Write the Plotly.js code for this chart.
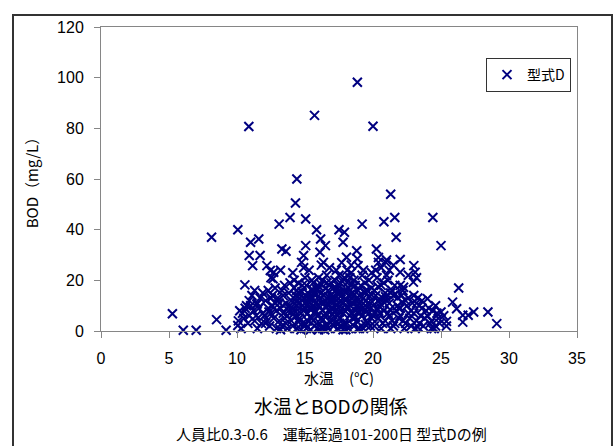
<!DOCTYPE html>
<html>
<head>
<meta charset="utf-8">
<script src="https://cdn.plot.ly/plotly-3.0.1.min.js"></script>
<style>
  html, body { margin: 0; padding: 0; background: #fff; }
  #chart { width: 616px; height: 446px; }
</style>
</head>
<body>
<div id="chart"></div>
<script>
// 水温 (℃) と BOD (mg/L) の測定値 — 型式D, 人員比0.3-0.6, 運転経過101-200日
const waterTemp = [
  // 外れ値・散在点
  5.25, 6.05, 7.0, 8.13, 8.5, 9.2, 10.06, 10.06, 10.87, 10.58,
  11.0, 11.6, 10.9, 11.15, 11.7, 12.2, 12.45, 12.7, 12.65, 13.1,
  13.3, 13.6, 13.9, 14.4, 14.3, 15.05, 15.05, 14.9, 14.75, 15.7,
  15.85, 16.15, 16.5, 16.1, 16.35, 17.5, 17.9, 17.8, 18.85, 18.8,
  18.05, 18.85, 19.2, 18.9, 20.0, 20.25, 20.8, 21.3, 21.6, 21.7,
  22.0, 20.4, 20.95, 22.0, 22.0, 22.25, 23.0, 23.1, 22.97, 24.4,
  25.0, 26.3, 25.85, 26.15, 26.6, 27.4, 27.0, 28.45, 29.1, 26.6,
  25.4, 25.0, 24.0, 24.3, 23.3,
  // 20-30 mg/L 付近
  12.5, 13.2, 14.1, 14.9, 15.3, 16.2, 16.8, 17.3, 17.7, 18.4,
  18.1, 19.3, 19.9, 20.6, 21.2, 21.5, 20.4, 21.0, 23.2, 22.6,
  // 10-11 ℃
  10.2, 10.4, 10.6, 10.3, 10.8, 10.9, 10.5, 10.7, 10.1, 10.9,
  // 11-12 ℃
  11.1, 11.3, 11.5, 11.2, 11.4, 11.6, 11.8, 11.9, 11.0, 11.7, 11.3, 11.5, 11.9,
  // 12-13 ℃
  12.1, 12.3, 12.5, 12.6, 12.8, 12.2, 12.4, 12.7, 12.9, 12.0, 12.3, 12.6, 12.9, 12.5, 12.1, 12.8,
  // 13-14 ℃
  13.0, 13.2, 13.4, 13.6, 13.8, 13.1, 13.3, 13.5, 13.7, 13.9,
  13.2, 13.6, 13.4, 13.8, 13.0, 13.9, 13.5, 13.3, 13.7, 13.1,
  // 14-15 ℃
  14.0, 14.2, 14.4, 14.6, 14.8, 14.1, 14.3, 14.5, 14.7, 14.9, 14.0, 14.2,
  14.4, 14.6, 14.8, 14.1, 14.3, 14.5, 14.7, 14.9, 14.2, 14.6, 14.8, 14.4,
  // 15-16 ℃
  15.0, 15.2, 15.4, 15.6, 15.8, 15.1, 15.3, 15.5, 15.7, 15.9, 15.0, 15.2, 15.4, 15.6,
  15.8, 15.1, 15.3, 15.5, 15.7, 15.9, 15.0, 15.4, 15.6, 15.8, 15.2, 15.5, 15.9,
  // 16-17 ℃
  16.0, 16.2, 16.4, 16.6, 16.8, 16.1, 16.3, 16.5, 16.7, 16.9, 16.0, 16.2, 16.4, 16.6,
  16.8, 16.1, 16.3, 16.5, 16.7, 16.9, 16.0, 16.4, 16.6, 16.8, 16.2, 16.5, 16.9, 16.3,
  // 17-18 ℃
  17.0, 17.2, 17.4, 17.6, 17.8, 17.1, 17.3, 17.5, 17.7, 17.9, 17.0, 17.2, 17.4, 17.6,
  17.8, 17.1, 17.3, 17.5, 17.7, 17.9, 17.0, 17.4, 17.6, 17.8, 17.2, 17.5, 17.9,
  // 18-19 ℃
  18.0, 18.2, 18.4, 18.6, 18.8, 18.1, 18.3, 18.5, 18.7, 18.9, 18.0, 18.2, 18.4, 18.6,
  18.8, 18.1, 18.3, 18.5, 18.7, 18.9, 18.0, 18.4, 18.6, 18.8, 18.2, 18.5, 18.9,
  // 19-20 ℃
  19.0, 19.2, 19.4, 19.6, 19.8, 19.1, 19.3, 19.5, 19.7, 19.9, 19.0, 19.2,
  19.4, 19.6, 19.8, 19.1, 19.3, 19.5, 19.7, 19.9, 19.0, 19.4, 19.6,
  // 20-21 ℃
  20.0, 20.2, 20.4, 20.6, 20.8, 20.1, 20.3, 20.5, 20.7, 20.9,
  20.0, 20.2, 20.4, 20.6, 20.8, 20.1, 20.5, 20.7, 20.9, 20.3,
  // 21-22 ℃
  21.0, 21.2, 21.4, 21.6, 21.8, 21.1, 21.3, 21.5, 21.7, 21.9,
  21.0, 21.2, 21.4, 21.6, 21.8, 21.1, 21.5, 21.9, 21.3,
  // 22-23 ℃
  22.0, 22.2, 22.4, 22.6, 22.8, 22.1, 22.3, 22.5, 22.7, 22.9, 22.2, 22.6, 22.4, 22.8, 22.0,
  // 23-24 ℃
  23.0, 23.2, 23.4, 23.6, 23.8, 23.1, 23.3, 23.5, 23.7, 23.9, 23.2, 23.6, 23.4, 23.0,
  // 24-25.5 ℃
  24.0, 24.2, 24.4, 24.6, 24.8, 24.1, 24.5, 24.7, 24.3, 24.9, 25.2, 25.4, 24.6,
  // 14-21 ℃ の密集部 (追加測定)
  14.12, 14.38, 14.53, 14.77, 14.96, 15.13, 15.37, 15.52, 15.78, 15.94,
  16.17, 16.33, 16.58, 16.72, 16.97, 17.14, 17.36, 17.53, 17.76, 17.93,
  18.16, 18.34, 18.57, 18.73, 18.96, 19.12, 19.38, 19.54, 19.77, 19.93,
  20.14, 20.37, 20.52, 20.78, 20.93,
  15.05, 15.45, 15.85, 16.25, 16.65, 17.05, 17.45, 17.85, 18.25, 18.65,
  19.05, 19.45, 19.85, 16.05, 16.45, 16.85, 17.25, 17.65, 18.05, 18.45,
  18.85, 15.25, 15.65, 13.75, 14.45, 21.25, 21.65, 22.15, 12.35, 11.45
];

const bodValue = [
  // 外れ値・散在点
  6.8, 0.3, 0.3, 37, 4.5, 0.3, 40, 2.2, 80.7, 18.2,
  35, 36.3, 29.8, 25.8, 29.8, 25.8, 23.9, 23.2, 20.6, 42.2,
  32.4, 31.5, 44.8, 60, 50.5, 44.2, 33.7, 29.8, 27.1, 85.1,
  40, 36.3, 33.7, 31.1, 27.1, 40, 39, 35, 98.2, 31.7,
  29.1, 28.5, 42.2, 25.8, 80.8, 32.4, 43.1, 54, 44.8, 37,
  28.2, 27.1, 27.1, 23.2, 18, 17.3, 25.8, 23.2, 19.3, 44.8,
  33.7, 17, 11.4, 8.8, 6.2, 7.5, 6.2, 7.5, 2.9, 3.5,
  3.8, 7.5, 12.7, 1, 1.6,
  // 20-30 mg/L 付近
  21, 24, 23, 25, 24, 26, 25, 24, 27, 26,
  24, 24, 23, 25, 24, 26, 29, 28, 21, 22,
  // 10-11 ℃
  8, 7, 9, 1, 3, 12, 5, 10, 4, 6,
  // 11-12 ℃
  14, 16, 11, 8, 6, 9, 3, 7, 10, 13, 4, 1, 15,
  // 12-13 ℃
  12, 9, 7, 14, 11, 4, 2, 5, 8, 6, 16, 10, 1, 13, 3, 17,
  // 13-14 ℃
  13, 9, 7, 11, 15, 4, 2, 18, 6, 10,
  0.5, 3, 14, 8, 12, 19, 5, 16, 1, 11,
  // 14-15 ℃
  12, 8, 16, 5, 10, 2, 14, 19, 7, 13, 4, 17,
  1, 11, 3, 9, 6, 15, 0.5, 8, 20, 13, 18, 10,
  // 15-16 ℃
  11, 7, 14, 4, 17, 1, 9, 20, 12, 6, 3, 15, 0.5, 10,
  8, 18, 13, 5, 2, 16, 21, 9, 19, 11, 4, 13, 1,
  // 16-17 ℃
  10, 15, 6, 19, 12, 3, 8, 17, 1, 14, 21, 5, 11, 2,
  18, 13, 20, 7, 16, 9, 0.5, 14, 22, 4, 11, 12, 19, 1,
  // 17-18 ℃
  13, 8, 18, 5, 11, 2, 15, 22, 9, 16, 4, 20, 1, 12,
  7, 17, 10, 3, 14, 21, 9, 6, 19, 0.5, 13, 11, 3,
  // 18-19 ℃
  12, 17, 7, 14, 10, 3, 21, 5, 18, 1, 15, 9, 23, 2,
  13, 19, 6, 11, 8, 16, 0.5, 13, 20, 4, 1, 15, 10,
  // 19-20 ℃
  11, 6, 15, 3, 9, 18, 1, 12, 20, 5, 14, 22,
  8, 16, 2, 10, 13, 4, 7, 17, 1, 19, 11,
  // 20-21 ℃
  10, 14, 5, 18, 8, 2, 21, 11, 3, 15,
  6, 24, 12, 1, 19, 16, 7, 13, 4, 9,
  // 21-22 ℃
  12, 6, 16, 3, 10, 20, 1, 14, 8, 5,
  22, 11, 4, 18, 13, 7, 2, 9, 15,
  // 22-23 ℃
  9, 4, 12, 7, 2, 14, 1, 10, 5, 11, 16, 13, 3, 8, 6,
  // 23-24 ℃
  7, 11, 3, 9, 5, 1, 13, 6, 2, 8, 4, 12, 10, 14,
  // 24-25.5 ℃
  6, 3, 8, 2, 5, 9, 1, 7, 4, 3, 6, 2, 10,
  // 14-21 ℃ の密集部 (追加測定)
  6.5, 11.5, 3.5, 15.5, 9.5, 13.5, 5.5, 16.5, 7.5, 10.5,
  18.5, 4.5, 9.5, 13.5, 6.5, 11.5, 16.5, 7.5, 19.5, 12.5,
  9.5, 14.5, 17.5, 5.5, 12.5, 8.5, 15.5, 9.5, 13.5, 11.5,
  7.5, 17.5, 9.5, 11.5, 13.5,
  2.5, 8.5, 14.5, 1.5, 10.5, 6.5, 14.5, 2.5, 11.5, 5.5,
  7.5, 2.5, 14.5, 17.5, 0.5, 7.5, 3.5, 15.5, 9.5, 18.5,
  7.5, 10.5, 14.5, 9.5, 13.5, 8.5, 14.5, 11.5, 7.5, 10.5
];

const seriesName = '型式D';
const chartTitle = '水温とBODの関係';
const chartSubtitle = '人員比0.3-0.6\u3000運転経過101-200日 型式Dの例';
const xTitle = '水温\u3000(℃)';
const yTitle = 'BOD（mg/L）';

const jpFont = '"Noto Sans CJK JP", "Liberation Sans", sans-serif';
const numFont = '"Liberation Sans", sans-serif';
const navy = '#000080';
const axisGray = '#868686';

const trace = {
  type: 'scatter',
  mode: 'markers',
  name: seriesName,
  x: waterTemp,
  y: bodValue,
  cliponaxis: false,
  marker: {
    symbol: 'x-thin-open',
    size: 9,
    color: navy,
    line: { color: navy, width: 2 }
  }
};

// 描画域: 左101px, 右577px, 上27px, 下331px
const L = 101, R = 577, T = 27, B = 331, W = 616, H = 446;
const px = v => (v - L) / (R - L);
const py = v => (B - v) / (B - T);

const layout = {
  width: W,
  height: H,
  margin: { l: L, r: W - R, t: T, b: H - B, pad: 0 },
  paper_bgcolor: '#ffffff',
  plot_bgcolor: '#ffffff',
  font: { family: jpFont, color: '#000000', size: 14 },
  showlegend: true,
  legend: {
    x: px(486), y: py(58), xanchor: 'left', yanchor: 'top',
    bgcolor: '#ffffff', bordercolor: '#333333', borderwidth: 1,
    font: { family: jpFont, size: 14, color: '#000000' },
    itemwidth: 30, tracegroupgap: 0
  },
  xaxis: {
    range: [0, 35], dtick: 5, tick0: 0,
    showgrid: false, zeroline: false,
    showline: true, linecolor: axisGray, linewidth: 1, mirror: true,
    ticks: 'outside', ticklen: 6, tickcolor: axisGray, tickwidth: 1,
    ticklabelstandoff: 7,
    tickfont: { family: numFont, size: 16, color: '#000000' },
    title: { text: xTitle, font: { family: jpFont, size: 15, color: '#000000' }, standoff: 2 },
    fixedrange: true
  },
  yaxis: {
    range: [0, 120], dtick: 20, tick0: 0,
    showgrid: false, zeroline: false,
    showline: true, linecolor: axisGray, linewidth: 1, mirror: true,
    ticks: 'outside', ticklen: 6, tickcolor: axisGray, tickwidth: 1,
    ticklabelstandoff: 7,
    tickfont: { family: numFont, size: 16, color: '#000000' },
    title: { text: yTitle, font: { family: jpFont, size: 15, color: '#000000' }, standoff: 14 },
    fixedrange: true
  },
  shapes: [
    {
      type: 'rect', xref: 'paper', yref: 'paper',
      x0: px(13), x1: px(612), y0: py(460), y1: py(15),
      line: { color: '#333333', width: 2 }, fillcolor: 'rgba(0,0,0,0)', layer: 'below'
    }
  ],
  annotations: [
    {
      xref: 'paper', yref: 'paper', x: px(331), y: py(405),
      xanchor: 'center', yanchor: 'middle', showarrow: false,
      text: chartTitle, font: { family: jpFont, size: 19, color: '#000000' }
    },
    {
      xref: 'paper', yref: 'paper', x: px(331), y: py(433),
      xanchor: 'center', yanchor: 'middle', showarrow: false,
      text: chartSubtitle, font: { family: jpFont, size: 15, color: '#000000' }
    }
  ]
};

Plotly.newPlot('chart', [trace], layout, { displayModeBar: false, staticPlot: true });
</script>
</body>
</html>
